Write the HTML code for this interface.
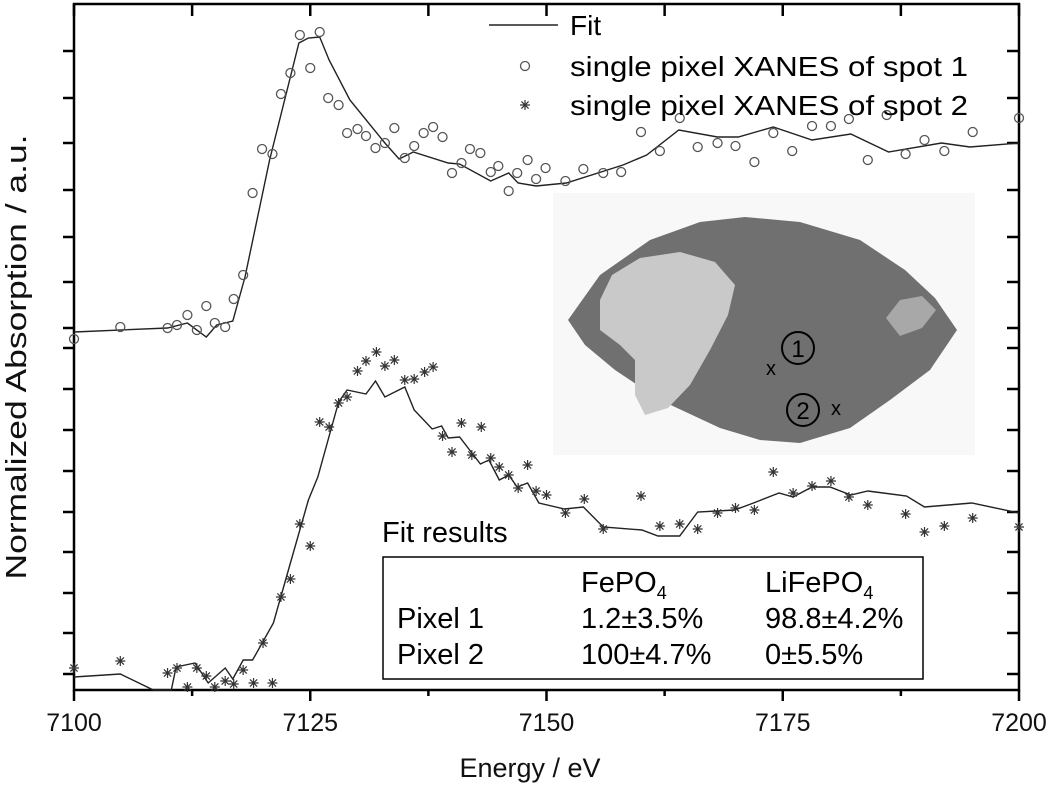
<!DOCTYPE html>
<html><head><meta charset="utf-8"><style>
html,body{margin:0;padding:0;background:#fff;}
svg{display:block;font-family:"Liberation Sans",Arial,sans-serif;}
</style></head><body>
<svg id="chart" width="1050" height="794" viewBox="0 0 1050 794" xmlns="http://www.w3.org/2000/svg">
<g id="inset">
  <rect x="553" y="193" width="422" height="262" fill="#f8f8f8"/>
  <path d="M568 320 L600 275 L650 240 L700 222 L745 217 L800 222 L860 240 L905 270 L935 298 L957 330 L930 370 L890 400 L850 428 L800 443 L760 440 L720 428 L660 400 L615 370 L585 345 Z" fill="#707070"/>
  <path d="M600 300 L612 275 L640 258 L680 252 L715 262 L735 285 L728 315 L710 350 L690 385 L668 408 L645 415 L635 395 L635 360 L620 345 L600 330 Z" fill="#c9c9c9"/>
  <path d="M886 318 L900 300 L922 296 L936 310 L922 328 L900 336 Z" fill="#a8a8a8"/>
  <circle cx="798" cy="348" r="16" fill="none" stroke="#000" stroke-width="2"/>
  <text x="798" y="357" font-size="24" text-anchor="middle">1</text>
  <text x="771" y="375" font-size="20" text-anchor="middle">x</text>
  <circle cx="803" cy="410" r="16" fill="none" stroke="#000" stroke-width="2"/>
  <text x="803" y="419" font-size="24" text-anchor="middle">2</text>
  <text x="836" y="415" font-size="20" text-anchor="middle">x</text>
</g>
<g id="plot"></g>
</svg>
<script>
const xTicks = [7100, 7125, 7150, 7175, 7200];
const fit1E = [7100,7109.9,7112,7114,7115.1,7116.8,7118.1,7120.7,7123.8,7124.8,7126,7127,7129.2,7132.9,7134.4,7135.9,7139.6,7140.8,7144.1,7146,7147,7148.9,7152.1,7158.1,7160.6,7164,7168.1,7170.3,7174,7178.1,7182.2,7186.2,7191.8,7194.8,7200];
const fit1V = [35.8,36.2,36.7,35.3,36.5,36.9,41.3,53.0,64.7,65.2,65.3,63.0,59.0,54.7,53.1,53.8,52.7,52.6,50.9,51.7,50.7,50.4,50.7,52.5,53.5,56.0,55.3,55.3,56.3,55.0,55.6,53.8,54.7,54.3,54.7];
const spot1E = [7100,7104.9,7109.9,7110.9,7112,7113,7114,7114.9,7116,7116.9,7117.9,7118.9,7119.9,7121,7121.9,7122.9,7123.9,7125,7126,7126.9,7128,7128.9,7130,7130.9,7131.9,7132.9,7133.9,7135,7136,7137,7138,7139,7140,7141,7141.9,7143,7144.1,7144.9,7146,7146.9,7148,7148.9,7149.9,7152,7153.9,7156,7157.9,7160,7162,7164.1,7166,7168.1,7170,7172,7174,7176,7178.1,7180.1,7182,7184,7186,7188,7190,7192.1,7195.1,7200];
const spot1V = [35.1,36.3,36.2,36.5,37.5,36.0,38.4,36.7,36.3,39.1,41.5,49.7,54.1,53.6,59.6,61.7,65.5,62.2,65.8,59.2,58.5,55.7,56.1,55.4,54.2,54.7,56.2,53.2,54.4,55.7,56.3,55.3,51.7,52.7,54.1,53.7,51.8,52.4,49.9,51.7,53.0,51.1,52.2,50.9,52.1,51.7,51.8,55.8,53.9,57.2,54.3,54.7,54.4,52.8,55.7,53.9,56.4,56.4,57.1,53.0,57.5,53.6,55.0,53.9,55.8,57.2];
const fit2E = [7100,7104.9,7108.4,7110.3,7110.8,7112.8,7114.2,7116,7116.8,7117.9,7118.9,7121.1,7122.9,7124.8,7125.8,7128,7128.9,7130.9,7131.9,7132.9,7135,7136,7137.9,7138.9,7139.6,7140.8,7143,7143.9,7145,7146,7146.9,7148,7149.2,7151.9,7153.9,7156,7160.1,7161.8,7164.1,7166,7169.9,7171.9,7174.6,7176.1,7178.1,7180,7182.2,7184,7188.1,7190,7195,7200];
const fit2V = [1.3,1.6,0,0,2.3,2.7,0.7,2.2,1.1,3.0,3.0,6.7,12.7,19.0,21.3,28.8,30.0,29.6,30.9,29.3,30.3,28.0,26.1,26.4,25.2,25.3,22.6,23.0,21.0,21.5,20.3,20.7,18.7,18.1,18.3,16.3,16.0,15.4,15.4,17.8,18.0,18.7,19.7,19.3,20.3,20.3,19.5,19.9,19.4,18.3,18.7,17.7];
const spot2E = [7100,7104.9,7109.9,7110.9,7112,7113,7114,7114.9,7116,7116.9,7117.9,7119,7121,7120,7121.9,7122.9,7123.9,7125,7126,7127,7128,7128.9,7130,7130.9,7132,7132.9,7133.9,7135,7136,7137.1,7138,7139,7140,7141,7142.1,7143.1,7144.1,7145,7146,7147,7148,7148.9,7150,7152,7154,7156,7160,7162,7164.1,7166,7168.1,7170,7172,7174,7176.1,7178.1,7180.1,7182,7184,7188,7190,7192.1,7195.1,7200];
const spot2V = [2.2,2.9,1.7,2.2,0.3,2.2,1.4,0.3,0.9,0.6,2.0,0.7,0.7,4.7,9.3,11.1,16.6,14.4,26.8,26.3,28.7,29.3,31.9,32.9,33.8,32.4,33.0,31.0,31.1,31.8,32.3,25.4,23.8,26.7,23.5,26.3,23.2,22.3,21.5,20.2,22.5,19.9,19.5,17.7,19.1,16.1,19.4,16.4,16.6,16.1,17.7,18.2,18.0,21.8,19.7,20.4,20.9,19.3,18.5,17.6,15.8,16.4,17.2,16.3];

const X0=74, X1=1019, Y0=690, YT=4;
function xs(e){return X0+(e-7100)*(X1-X0)/100;}
function ys(v){return Y0-v*10;}
const NS="http://www.w3.org/2000/svg";
const g=document.getElementById('plot');
function mk(t,a,p){const e=document.createElementNS(NS,t);for(const k in a)e.setAttribute(k,a[k]);(p||g).appendChild(e);return e;}

const leftTicks=[51,98,143,190,237,282,328,348,389,430,471,512,552,593,633,674];
leftTicks.forEach(y=>{
  const t=mk('line',{x1:X0-11,x2:X0,y1:y,y2:y,stroke:'#000','stroke-width':2.5});
  
  
  const r=mk('line',{x1:X1-12,x2:X1,y1:y,y2:y,stroke:'#000','stroke-width':2.5});
  
  
});
for(let e=7100;e<=7200;e+=12.5){
  const major=(e-7100)%25===0;
  const b=mk('line',{x1:xs(e),x2:xs(e),y1:Y0,y2:Y0+(major?11:6),stroke:'#000','stroke-width':2.5});
  
  
  const t=mk('line',{x1:xs(e),x2:xs(e),y1:YT,y2:YT+12,stroke:'#000','stroke-width':2.5});
  
  
}
xTicks.forEach(e=>{
  const t=mk('text',{x:xs(e),y:731,'font-size':25,'text-anchor':'middle',fill:'#111'});
  t.textContent=e;
  
  
});
const frame=mk('rect',{x:X0,y:YT,width:X1-X0,height:Y0-YT,fill:'none',stroke:'#000','stroke-width':2.5});



function line(E,V,name){
  const d=E.map((e,i)=>(i?'L':'M')+xs(e).toFixed(1)+' '+ys(V[i]).toFixed(1)).join(' ');
  const p=mk('path',{d:d,fill:'none',stroke:'#222','stroke-width':1.4});
  
  
}
line(fit1E,fit1V,'fit-line-spot-1');
line(fit2E,fit2V,'fit-line-spot-2');
spot1E.forEach((e,i)=>{
  const c=mk('circle',{cx:xs(e),cy:ys(spot1V[i]),r:4.5,fill:'none',stroke:'#555','stroke-width':1.3});
  
  
});
function star(x,y,p){
  const s=5;
  const d=`M${x-s} ${y}L${x+s} ${y}M${x} ${y-s}L${x} ${y+s}M${x-3.6} ${y-3.6}L${x+3.6} ${y+3.6}M${x-3.6} ${y+3.6}L${x+3.6} ${y-3.6}`;
  return mk('path',{d:d,stroke:'#333','stroke-width':1.2,fill:'none'},p);
}
spot2E.forEach((e,i)=>{
  const s=star(xs(e),ys(spot2V[i]));
  
  
});
const lg=mk('g',{});


mk('line',{x1:489,x2:558,y1:25,y2:25,stroke:'#222','stroke-width':1.4},lg);
mk('text',{x:570,y:35,'font-size':28},lg).textContent='Fit';
mk('circle',{cx:525,cy:66,r:4.5,fill:'none',stroke:'#555','stroke-width':1.3},lg);
mk('text',{x:570,y:76,'font-size':28,textLength:398,lengthAdjust:'spacingAndGlyphs'},lg).textContent='single pixel XANES of spot 1';
star(525,105,lg);
mk('text',{x:570,y:115,'font-size':28,textLength:398,lengthAdjust:'spacingAndGlyphs'},lg).textContent='single pixel XANES of spot 2';
const fr=mk('g',{});


mk('text',{x:382,y:542,'font-size':29},fr).textContent='Fit results';
mk('rect',{x:383,y:557,width:540,height:122,fill:'#fff',stroke:'#000','stroke-width':1.5},fr);
const rows=[['','FePO','LiFePO',592],['Pixel 1','1.2±3.5%','98.8±4.2%',628],['Pixel 2','100±4.7%','0±5.5%',664]];
rows.forEach((r,i)=>{
  mk('text',{x:397,y:r[3],'font-size':29},fr).textContent=r[0];
  const a=mk('text',{x:581,y:r[3],'font-size':29},fr);
  const b=mk('text',{x:765,y:r[3],'font-size':29},fr);
  if(i===0){
    a.innerHTML='FePO<tspan font-size="18" dy="7">4</tspan>';
    b.innerHTML='LiFePO<tspan font-size="18" dy="7">4</tspan>';
  } else {a.textContent=r[1];b.textContent=r[2];}
});
const xt=mk('text',{x:530,y:777,'font-size':27,'text-anchor':'middle',fill:'#111'});
xt.textContent='Energy / eV';


const yt=mk('text',{x:0,y:0,'font-size':29,'text-anchor':'middle',fill:'#111',textLength:445,lengthAdjust:'spacingAndGlyphs',transform:'translate(26,357) rotate(-90)'});
yt.textContent='Normalized Absorption / a.u.';


</script>
</body></html>
